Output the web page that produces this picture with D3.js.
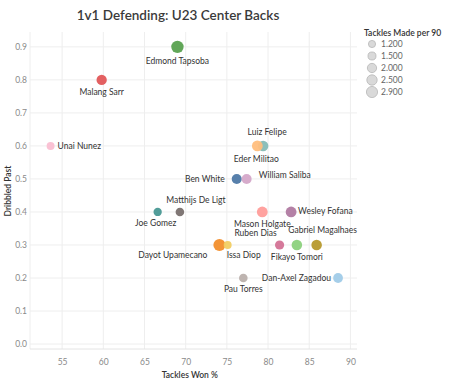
<!DOCTYPE html>
<html>
<head>
<meta charset="utf-8">
<script src="https://cdn.jsdelivr.net/npm/d3@7"></script>
<style>
  body { margin: 0; background: #fff; }
  text { font-family: Lato, "Open Sans", sans-serif; }
</style>
</head>
<body>
<svg id="chart" width="451" height="384"></svg>
<script>
// data
var players = ["Edmond Tapsoba", "Malang Sarr", "Unai Nunez", "Luiz Felipe", "Eder Militao",
               "Ben White", "William Saliba", "Matthijs De Ligt", "Joe Gomez", "Mason Holgate",
               "Wesley Fofana", "Dayot Upamecano", "Issa Diop", "Ruben Dias", "Fikayo Tomori",
               "Gabriel Magalhaes", "Pau Torres", "Dan-Axel Zagadou"];
var tacklesWon = [69.0, 59.8, 53.6, 79.4, 78.7, 76.2, 77.4, 69.3, 66.6, 79.3,
                  82.8, 74.1, 75.1, 81.4, 83.5, 85.9, 77.0, 88.5];
var dribbledPast = [0.9, 0.8, 0.6, 0.6, 0.6, 0.5, 0.5, 0.4, 0.4, 0.4,
                    0.4, 0.3, 0.3, 0.3, 0.3, 0.3, 0.2, 0.2];
var tacklesPer90 = [2.9, 2.0, 1.2, 2.1, 2.2, 1.9, 1.9, 1.4, 1.3, 2.2,
                    2.2, 2.8, 1.2, 1.6, 2.1, 2.1, 1.4, 1.8];
var legendValues = [1.2, 1.5, 2.0, 2.5, 2.9];
var xTicks = [55, 60, 65, 70, 75, 80, 85, 90];
var yTicks = [0, 0.1, 0.2, 0.3, 0.4, 0.5, 0.6, 0.7, 0.8, 0.9];

// tableau 20 colours, one per player
var colors = ["#59a14f", "#e15759", "#fabfd2", "#86bcb6", "#ffbe7d",
              "#4e79a7", "#d4a6c8", "#79706e", "#499894", "#ff9d9a",
              "#b07aa1", "#f28e2b", "#f1ce63", "#d37295", "#8cd17d",
              "#b6992d", "#bab0ac", "#a0cbe8"];

// label placement: [anchor, dx, dy]
var labelPlace = {
  "Edmond Tapsoba": ["middle", 0, 14],
  "Malang Sarr": ["middle", 0, 12],
  "Unai Nunez": ["start", 7, 0],
  "Luiz Felipe": ["middle", 4, -14],
  "Eder Militao": ["middle", -1, 13],
  "Ben White": ["end", -12, 0],
  "William Saliba": ["start", 12, -4],
  "Matthijs De Ligt": ["middle", 16, -12],
  "Joe Gomez": ["middle", -2, 11],
  "Mason Holgate": ["middle", 0, 12],
  "Wesley Fofana": ["start", 7, -1],
  "Dayot Upamecano": ["end", -12, 10],
  "Issa Diop": ["middle", 16, 10],
  "Ruben Dias": ["middle", -24, -12],
  "Fikayo Tomori": ["middle", 0, 12],
  "Gabriel Magalhaes": ["middle", 6, -15],
  "Pau Torres": ["middle", 0, 11],
  "Dan-Axel Zagadou": ["end", -7, 0]
};

var svg = d3.select("#chart");
var margin = {left: 30, right: 94, top: 32, bottom: 35};
var W = 451, H = 384;

var x = d3.scaleLinear().domain([51.1, 90.8]).range([margin.left, W - margin.right]);
var y = d3.scaleLinear().domain([-0.015, 0.945]).range([H - margin.bottom, margin.top]);
var r = d3.scaleSqrt().domain([0, 2.9]).range([0, 6.2]);

// title
svg.append("text")
  .attr("x", 178).attr("y", 20)
  .attr("text-anchor", "middle")
  .attr("font-size", 13.5).attr("font-weight", 600)
  .attr("fill", "#3a3a3a")
  .text("1v1 Defending: U23 Center Backs");

// gridlines
var grid = svg.append("g");
grid.selectAll(".gx").data(xTicks).enter().append("line")
  .attr("x1", d => x(d)).attr("x2", d => x(d))
  .attr("y1", margin.top).attr("y2", H - margin.bottom)
  .attr("stroke", "#eeeeee");
grid.selectAll(".gy").data(yTicks).enter().append("line")
  .attr("x1", margin.left).attr("x2", W - margin.right)
  .attr("y1", d => y(d)).attr("y2", d => y(d))
  .attr("stroke", "#eeeeee");
grid.append("line")
  .attr("x1", margin.left).attr("x2", margin.left)
  .attr("y1", margin.top).attr("y2", H - margin.bottom)
  .attr("stroke", "#eeeeee");
grid.append("line")
  .attr("x1", margin.left).attr("x2", W - margin.right)
  .attr("y1", H - margin.bottom).attr("y2", H - margin.bottom)
  .attr("stroke", "#e4e4e4");

// axes (labels only)
var xAxis = svg.append("g")
  .attr("transform", "translate(0," + (H - margin.bottom) + ")")
  .call(d3.axisBottom(x).tickValues(xTicks).tickSize(0).tickPadding(10));
var yAxis = svg.append("g")
  .attr("transform", "translate(" + margin.left + ",0)")
  .call(d3.axisLeft(y).tickValues(yTicks).tickFormat(d3.format(".1f")).tickSize(0).tickPadding(3));
[xAxis, yAxis].forEach(function(a){
  a.select(".domain").remove();
  a.selectAll("text").attr("fill", "#8a8a8a").attr("font-size", 8.5)
    .attr("font-family", "Lato, sans-serif");
});

svg.append("text")
  .attr("x", x(70.5)).attr("y", 378)
  .attr("text-anchor", "middle")
  .attr("font-size", 8.5).attr("font-weight", 600).attr("fill", "#333")
  .text("Tackles Won %");
svg.append("text")
  .attr("transform", "translate(11,191) rotate(-90)")
  .attr("text-anchor", "middle")
  .attr("font-size", 8.5).attr("font-weight", 600).attr("fill", "#333")
  .text("Dribbled Past");

// points
var idx = d3.range(players.length);
var marks = svg.append("g");
marks.selectAll("circle").data(idx).enter().append("circle")
  .attr("cx", i => x(tacklesWon[i]))
  .attr("cy", i => y(dribbledPast[i]))
  .attr("r", i => r(tacklesPer90[i]))
  .attr("fill", i => colors[i])
  .attr("fill-opacity", 0.95);

marks.selectAll("text").data(idx).enter().append("text")
  .attr("x", i => x(tacklesWon[i]) + labelPlace[players[i]][1])
  .attr("y", i => y(dribbledPast[i]) + labelPlace[players[i]][2])
  .attr("dy", "0.35em")
  .attr("text-anchor", i => labelPlace[players[i]][0])
  .attr("font-size", 8.5).attr("fill", "#333")
  .text(i => players[i]);

// size legend
var lg = svg.append("g").attr("transform", "translate(364,0)");
lg.append("text")
  .attr("x", 0).attr("y", 36)
  .attr("font-size", 8.5).attr("font-weight", 600).attr("fill", "#333")
  .text("Tackles Made per 90");
var rows = lg.selectAll(".row").data(legendValues).enter().append("g")
  .attr("transform", (d, i) => "translate(0," + [44, 56, 68, 80, 92][i] + ")");
rows.append("circle")
  .attr("cx", 8).attr("cy", 0)
  .attr("r", d => r(d) * 0.9)
  .attr("fill", "#d9d9d9").attr("stroke", "#b8b8b8").attr("stroke-width", 0.8);
rows.append("text")
  .attr("x", 17).attr("y", 0).attr("dy", "0.35em")
  .attr("font-size", 8.5).attr("fill", "#666")
  .text(d => d3.format(".3f")(d));
</script>
</body>
</html>
